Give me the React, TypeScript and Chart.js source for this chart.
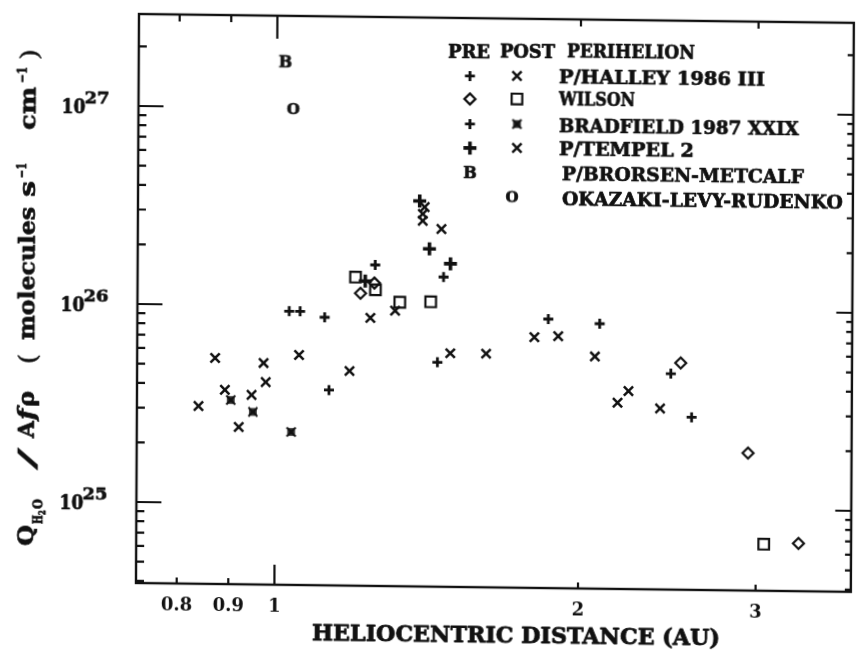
import React, { useEffect, useRef } from 'react';
import { Chart, registerables } from 'chart.js';
import { drawPoint } from 'chart.js/helpers';

Chart.register(...registerables);

// ---------- data ----------
const xTickValues = [0.8, 0.9, 1, 2, 3];
const xTickLabels = ['0.8', '0.9', '1', '2', '3'];
const yDecadeExponents = [25, 26, 27];
const X_MIN = 0.729;
const X_MAX = 3.729;
const Y_MIN = 3.9e24;
const Y_MAX = 2.914e27;

const halleyPreX = [1.031, 1.057, 1.118, 1.254, 1.466, 1.447, 1.863, 2.095, 2.466, 2.587];
const halleyPreY = [9.4e25, 9.4e25, 8.8e25, 1.63e26, 1.43e26, 5.3e25, 8.9e25, 8.5e25, 4.8e25, 2.9e25];

const halleyPostX = [0.839, 0.871, 0.891, 0.92, 0.947, 0.973, 0.978, 1.055, 1.184, 1.241, 1.313, 1.49, 1.617, 1.805, 1.906, 2.073, 2.184, 2.239, 2.407];
const halleyPostY = [3.08e25, 5.4e25, 3.73e25, 2.43e25, 3.53e25, 5.13e25, 4.11e25, 5.66e25, 4.73e25, 8.8e25, 9.6e25, 5.9e25, 5.9e25, 7.2e25, 7.3e25, 5.8e25, 3.4e25, 3.9e25, 3.2e25];

const wilsonPreX = [1.252, 1.213, 2.522, 2.944, 3.307];
const wilsonPreY = [1.32e26, 1.17e26, 5.45e25, 1.93e25, 6.8e24];

const wilsonPostX = [1.199, 1.255, 1.327, 1.424, 3.055];
const wilsonPostY = [1.41e26, 1.22e26, 1.06e26, 1.07e26, 6.7e24];

const bradfieldPreX = [1.13];
const bradfieldPreY = [3.78e25];

const bradfieldPostX = [0.903, 0.95, 1.037];
const bradfieldPostY = [3.32e25, 2.9e25, 2.31e25];

const tempelPreX = [1.226, 1.387, 1.419, 1.489];
const tempelPreY = [1.35e26, 3.45e26, 1.98e26, 1.67e26];

const tempelPostX = [1.403, 1.397, 1.397, 1.458];
const tempelPostY = [3.22e26, 2.97e26, 2.74e26, 2.5e26];

const brorsenX = [1.019];
const brorsenY = [1.7e27];

const okazakiX = [1.038];
const okazakiY = [9.76e26];

const legendHeader = ['PRE', 'POST', 'PERIHELION'];
const legendNames = [
  'P/HALLEY 1986 III',
  'WILSON',
  'BRADFIELD 1987 XXIX',
  'P/TEMPEL 2',
  'P/BRORSEN-METCALF',
  'OKAZAKI-LEVY-RUDENKO',
];
const xTitle = 'HELIOCENTRIC DISTANCE (AU)';

// ---------- styling ----------
const INK = '#111111';
const FONT = '"DejaVu Serif", serif';

// the scan is slightly skewed; page coords -> canvas coords
const SK_B = 0.0124;
const SK_C = -0.0053;
const OX = 139;
const OY = 14;
function pc(X: number, Y: number): [number, number] {
  const dX = X - OX;
  const dY = Y - OY;
  const v = dY - SK_B * dX;
  const u = dX - SK_C * v;
  return [OX + u, OY + v];
}

function zip(xs: number[], ys: number[]) {
  return xs.map((x, i) => ({ x, y: ys[i] }));
}

function drawFit(ctx: CanvasRenderingContext2D, text: string, x: number, y: number, w: number, font: string, align: 'left' | 'center' = 'left', heavy = 0.7) {
  ctx.font = font;
  const m = ctx.measureText(text).width;
  const s = w / m;
  ctx.save();
  ctx.translate(align === 'center' ? x - w / 2 : x, y);
  ctx.scale(s, 1);
  ctx.textAlign = 'left';
  ctx.fillText(text, 0, 0);
  if (heavy > 0) {
    ctx.lineWidth = heavy;
    ctx.strokeStyle = INK;
    ctx.lineJoin = 'round';
    ctx.strokeText(text, 0, 0);
  }
  ctx.restore();
}

export default function App() {
  const ref = useRef<HTMLCanvasElement>(null);

  useEffect(() => {
    const canvas = ref.current!;

    const mkCanvas = (w: number, h: number, draw: (c: CanvasRenderingContext2D) => void) => {
      const c = document.createElement('canvas');
      c.width = w;
      c.height = h;
      const g = c.getContext('2d')!;
      draw(g);
      return c;
    };

    const bImg = mkCanvas(16, 18, (g) => {
      g.fillStyle = INK;
      g.strokeStyle = INK;
      g.lineWidth = 0.7;
      g.font = 'bold 16px ' + FONT;
      g.textAlign = 'center';
      g.textBaseline = 'middle';
      g.fillText('B', 8, 9.5);
      g.strokeText('B', 8, 9.5);
    });
    const oImg = mkCanvas(16, 18, (g) => {
      g.fillStyle = INK;
      g.strokeStyle = INK;
      g.lineWidth = 0.7;
      g.font = 'bold 15px ' + FONT;
      g.textAlign = 'center';
      g.textBaseline = 'middle';
      g.fillText('O', 8, 9.5);
      g.strokeText('O', 8, 9.5);
    });
    const boxX = mkCanvas(12, 12, (g) => {
      g.strokeStyle = INK;
      g.fillStyle = INK;
      g.lineWidth = 2;
      g.beginPath();
      g.moveTo(1.5, 1.5); g.lineTo(10.5, 10.5);
      g.moveTo(10.5, 1.5); g.lineTo(1.5, 10.5);
      g.stroke();
      g.lineWidth = 1.5;
      g.strokeRect(3, 3, 6, 6);
      g.fillRect(3.5, 3.5, 5, 5);
    });

    type Sty = { pointStyle: any; radius: number; borderWidth: number };
    const styles: Record<string, Sty> = {
      halleyPre: { pointStyle: 'cross', radius: 5, borderWidth: 2.8 },
      halleyPost: { pointStyle: 'crossRot', radius: 6.5, borderWidth: 2.5 },
      wilsonPre: { pointStyle: 'rectRot', radius: 5.5, borderWidth: 2.2 },
      wilsonPost: { pointStyle: 'rect', radius: 7.5, borderWidth: 2.2 },
      bradfieldPre: { pointStyle: 'cross', radius: 5, borderWidth: 2.8 },
      bradfieldPost: { pointStyle: boxX, radius: 5, borderWidth: 1 },
      tempelPre: { pointStyle: 'cross', radius: 6.5, borderWidth: 3.6 },
      tempelPost: { pointStyle: 'crossRot', radius: 6.5, borderWidth: 2.5 },
      brorsen: { pointStyle: bImg, radius: 5, borderWidth: 1 },
      okazaki: { pointStyle: oImg, radius: 5, borderWidth: 1 },
    };

    const ds = (label: string, key: string, xs: number[], ys: number[]) => ({
      label,
      data: zip(xs, ys),
      pointStyle: styles[key].pointStyle,
      pointRadius: styles[key].radius,
      pointBorderWidth: styles[key].borderWidth,
      pointBorderColor: INK,
      pointBackgroundColor: 'rgba(0,0,0,0)',
      showLine: false,
    });

    const datasets = [
      ds('P/Halley pre', 'halleyPre', halleyPreX, halleyPreY),
      ds('P/Halley post', 'halleyPost', halleyPostX, halleyPostY),
      ds('Wilson pre', 'wilsonPre', wilsonPreX, wilsonPreY),
      ds('Wilson post', 'wilsonPost', wilsonPostX, wilsonPostY),
      ds('Bradfield pre', 'bradfieldPre', bradfieldPreX, bradfieldPreY),
      ds('Bradfield post', 'bradfieldPost', bradfieldPostX, bradfieldPostY),
      ds('P/Tempel 2 pre', 'tempelPre', tempelPreX, tempelPreY),
      ds('P/Tempel 2 post', 'tempelPost', tempelPostX, tempelPostY),
      ds('P/Brorsen-Metcalf', 'brorsen', brorsenX, brorsenY),
      ds('Okazaki-Levy-Rudenko', 'okazaki', okazakiX, okazakiY),
    ];

    const sym = (ctx: CanvasRenderingContext2D, key: string, x: number, y: number) => {
      const s = styles[key];
      ctx.save();
      ctx.strokeStyle = INK;
      ctx.fillStyle = 'rgba(0,0,0,0)';
      ctx.lineWidth = s.borderWidth;
      drawPoint(ctx, { pointStyle: s.pointStyle, radius: s.radius, borderWidth: s.borderWidth, rotation: 0 } as any, x, y);
      ctx.restore();
    };

    const bgPlugin = {
      id: 'bg',
      beforeDraw(chart: any) {
        const ctx = chart.ctx;
        ctx.save();
        ctx.fillStyle = '#ffffff';
        ctx.fillRect(0, 0, chart.width, chart.height);
        ctx.restore();
      },
    };

    const framePlugin = {
      id: 'frame',
      afterDraw(chart: any) {
        const ctx: CanvasRenderingContext2D = chart.ctx;
        const area = chart.chartArea;
        const L = area.left;
        const R = area.right;
        const T = area.top;
        const Bt = area.bottom;
        const sx = chart.scales.x;
        const sy = chart.scales.y;
        ctx.save();
        ctx.strokeStyle = INK;
        ctx.lineWidth = 2.4;
        ctx.strokeRect(L, T, R - L, Bt - T);

        // inward ticks: y on left and right, x on bottom and top
        ctx.lineWidth = 2.2;
        ctx.beginPath();
        for (let d = 24; d <= 27; d++) {
          for (let m = 1; m <= 9; m++) {
            const v = m * Math.pow(10, d);
            if (v < Y_MIN || v > Y_MAX) continue;
            const py = sy.getPixelForValue(v);
            const major = m === 1;
            ctx.moveTo(L, py);
            ctx.lineTo(L + (major ? 25 : 8), py);
            ctx.moveTo(R, py);
            ctx.lineTo(R - (major ? 16 : 6), py);
          }
        }
        xTickValues.forEach((v) => {
          const px = sx.getPixelForValue(v);
          const major = v === 1;
          ctx.moveTo(px, Bt);
          ctx.lineTo(px, Bt - (major ? 20 : 6));
          ctx.moveTo(px, T);
          ctx.lineTo(px, T + (major ? 23 : 7));
        });
        ctx.stroke();

        ctx.fillStyle = INK;
        ctx.textBaseline = 'middle';
        yDecadeExponents.forEach((e) => {
          const py = sy.getPixelForValue(Math.pow(10, e));
          drawFit(ctx, '10', 62, py + 3, 24, 'bold 20px ' + FONT);
          drawFit(ctx, String(e), 85, py - 6, 25, 'bold 16px ' + FONT);
        });

        {
          const [cx, cy] = pc(516, 637);
          drawFit(ctx, xTitle, cx, cy, 408, 'bold 23px ' + FONT, 'center', 0.9);
        }

        {
          const [tx, ty] = pc(33, 547);
          ctx.save();
          ctx.translate(tx, ty);
          ctx.rotate(-Math.PI / 2);
          ctx.textBaseline = 'alphabetic';
          const B = 'bold ';
          drawFit(ctx, 'Q', 1, 0, 21, B + '22px ' + FONT);
          drawFit(ctx, 'H', 23, 9, 9, B + '12px ' + FONT);
          drawFit(ctx, '2', 32, 12, 5, B + '9px ' + FONT);
          drawFit(ctx, 'O', 38, 9, 10, B + '12px ' + FONT);
          drawFit(ctx, '/', 77, 2, 22, '24px ' + FONT, 'left', 0.4);
          drawFit(ctx, 'A', 109, 0, 17, B + '22px ' + FONT);
          drawFit(ctx, 'f', 127, 0, 11, 'italic bold 22px ' + FONT);
          drawFit(ctx, 'ρ', 140, 0, 16, B + '22px ' + FONT);
          drawFit(ctx, '(', 183, 2, 10, '24px ' + FONT, 'left', 0.5);
          drawFit(ctx, 'molecules', 207, 0, 133, B + '23px ' + FONT);
          drawFit(ctx, 's', 350, 0, 16, B + '23px ' + FONT);
          drawFit(ctx, '−1', 369, -9, 15, B + '13px ' + FONT);
          drawFit(ctx, 'cm', 417, 0, 43, B + '23px ' + FONT);
          drawFit(ctx, '−1', 464, -9, 16, B + '13px ' + FONT);
          drawFit(ctx, ')', 487, 2, 11, '24px ' + FONT, 'left', 0.5);
          ctx.restore();
        }

        ctx.textBaseline = 'middle';
        const LF = 'bold 18px ' + FONT;
        {
          const hp: [number, number, number][] = [[448, 53, 42], [500, 53, 55], [567, 53, 128]];
          legendHeader.forEach((t, i) => {
            const [x, y] = pc(hp[i][0], hp[i][1]);
            drawFit(ctx, t, x, y, hp[i][2], LF);
          });
          const rows: [number, number, number][] = [
            [559, 79, 206], [559, 101, 76], [559, 128, 240], [559, 151, 135], [562, 176, 242], [562, 201, 281],
          ];
          legendNames.forEach((t, i) => {
            const [x, y] = pc(rows[i][0], rows[i][1]);
            drawFit(ctx, t, x, y, rows[i][2], LF);
          });
          const symRows: [string | null, string | null, number][] = [
            ['halleyPre', 'halleyPost', 76],
            ['wilsonPre', 'wilsonPost', 99],
            ['bradfieldPre', 'bradfieldPost', 124],
            ['tempelPre', 'tempelPost', 148],
            ['brorsen', null, 173],
            [null, 'okazaki', 198],
          ];
          symRows.forEach(([pre, post, yy], i) => {
            if (pre) {
              const [x, y] = pc(470, yy);
              sym(ctx, pre, x, y);
            }
            if (post) {
              const [x, y] = pc(i === 5 ? 512 : 517, yy);
              sym(ctx, post, x, y);
            }
          });
        }
        ctx.restore();
      },
    };

    const chart = new Chart(canvas, {
      type: 'scatter',
      data: { datasets: datasets as any },
      options: {
        animation: false,
        responsive: false,
        maintainAspectRatio: false,
        devicePixelRatio: 1,
        events: [],
        layout: { padding: { top: 14, right: 2, left: 0, bottom: 0 } },
        plugins: { legend: { display: false }, tooltip: { enabled: false }, title: { display: false } },
        scales: {
          x: {
            type: 'logarithmic',
            position: 'bottom',
            min: X_MIN,
            max: X_MAX,
            bounds: 'data',
            grid: { display: false, drawTicks: false },
            border: { display: false },
            ticks: {
              autoSkip: false,
              maxRotation: 0,
              padding: 12,
              color: INK,
              font: { family: FONT, size: 18, weight: 'bold' },
              callback: (v: any) => {
                const i = xTickValues.indexOf(Number(v));
                return i >= 0 ? xTickLabels[i] : '';
              },
            },
            afterBuildTicks: (s: any) => {
              s.ticks = xTickValues.map((v) => ({ value: v }));
            },
            afterFit: (s: any) => {
              s.height = 72;
            },
          },
          y: {
            type: 'logarithmic',
            position: 'left',
            min: Y_MIN,
            max: Y_MAX,
            bounds: 'data',
            grid: { display: false, drawTicks: false },
            border: { display: false },
            ticks: { display: false },
            afterBuildTicks: (s: any) => {
              s.ticks = yDecadeExponents.map((e) => ({ value: Math.pow(10, e) }));
            },
            afterFit: (s: any) => {
              s.width = 139;
            },
          },
        },
      } as any,
      plugins: [bgPlugin, framePlugin],
    });

    return () => chart.destroy();
  }, []);

  return (
    <div style={{ position: 'absolute', left: 0, top: 0, width: 864, height: 655, overflow: 'hidden', background: '#fff' }}>
      <canvas
        ref={ref}
        width={864}
        height={655}
        style={{
          display: 'block',
          width: 864,
          height: 655,
          transformOrigin: '139px 14px',
          transform: 'matrix(1, 0.0124, -0.0053, 1, 0, 0)',
          filter: 'blur(0.45px)',
        }}
      />
    </div>
  );
}
